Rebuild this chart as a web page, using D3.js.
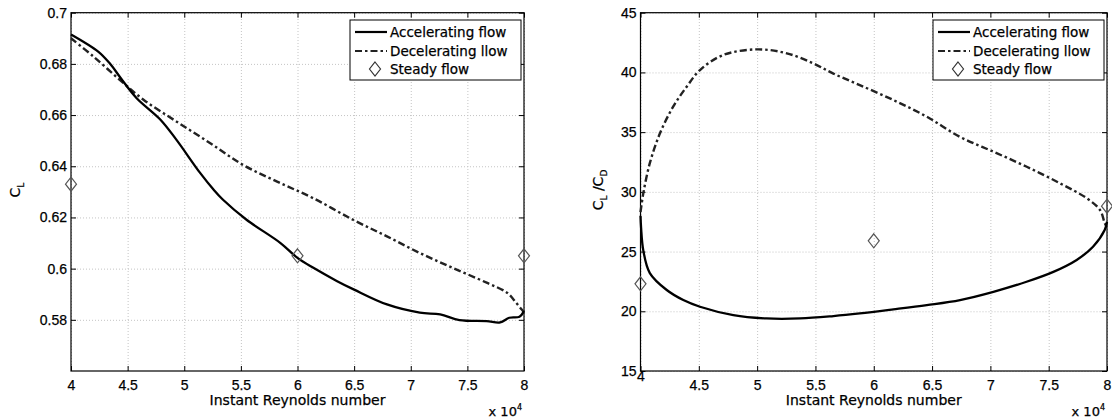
<!DOCTYPE html>
<html>
<head>
<meta charset="utf-8">
<script src="https://cdn.jsdelivr.net/npm/d3@7"></script>
<style>
body { margin: 0; background: #fff; }
svg { display: block; font-family: "DejaVu Sans", sans-serif; }
text { fill: #000; stroke: #000; stroke-width: 0.25px; }
.grid line { stroke: #c4c4c4; stroke-dasharray: 1,2; }
.grid path { display: none; }
.axis path { display: none; }
.axis line { stroke: #000; }
.axis text { fill: #000; font-size: 14px; }
</style>
</head>
<body>
<div id="chart-area"></div>
<script>
// Reynolds number ticks (x 10^4)
var reTicks = [4, 4.5, 5, 5.5, 6, 6.5, 7, 7.5, 8];
var clTicks = [0.58, 0.6, 0.62, 0.64, 0.66, 0.68, 0.7];
var clcdTicks = [15, 20, 25, 30, 35, 40, 45];
var legendLabels = ["Accelerating flow", "Decelerating llow", "Steady flow"];

// Left panel: C_L
var accelRe1 = [4.0, 4.24, 4.34, 4.45, 4.58, 4.79, 4.93, 5.14, 5.26, 5.34, 5.55, 5.85, 6.0, 6.14, 6.35, 6.5, 6.79, 7.08, 7.26, 7.43, 7.67, 7.79, 7.87, 7.96, 8.0];
var accelCl = [0.6915, 0.6848, 0.6803, 0.6738, 0.6666, 0.6582, 0.6504, 0.6374, 0.6308, 0.627, 0.6191, 0.61, 0.6042, 0.6003, 0.5951, 0.5918, 0.586, 0.5828, 0.5821, 0.5799, 0.5795, 0.579, 0.5808, 0.5812, 0.5834];
var decelRe1 = [4.0, 4.2, 4.43, 4.64, 4.93, 5.23, 5.52, 5.82, 6.14, 6.49, 6.79, 7.08, 7.37, 7.67, 7.85, 7.93, 7.98, 8.0];
var decelCl = [0.690, 0.6828, 0.6738, 0.666, 0.6575, 0.649, 0.6405, 0.634, 0.6275, 0.6191, 0.6126, 0.6061, 0.6003, 0.5945, 0.5906, 0.5867, 0.584, 0.583];
var steadyRe = [4, 6, 8];
var steadyCl = [0.633, 0.605, 0.605];

// Right panel: C_L/C_D
var accelRe2 = [4.0, 4.005, 4.024, 4.08, 4.225, 4.367, 4.51, 4.796, 5.08, 5.368, 5.654, 5.88, 6.168, 6.455, 6.74, 7.026, 7.31, 7.54, 7.74, 7.88, 7.98, 8.0];
var accelClCd = [28.0, 27.0, 25.1, 23.2, 21.78, 20.94, 20.38, 19.68, 19.4, 19.4, 19.6, 19.82, 20.16, 20.52, 20.94, 21.63, 22.47, 23.3, 24.3, 25.4, 26.8, 27.5];
var decelRe2 = [4.0, 4.024, 4.08, 4.167, 4.28, 4.396, 4.51, 4.71, 5.0, 5.254, 5.48, 5.654, 5.88, 6.168, 6.455, 6.74, 7.026, 7.312, 7.6, 7.827, 7.94, 7.98, 8.0];
var decelClCd = [28.3, 29.87, 32.4, 34.9, 37.13, 38.8, 40.2, 41.46, 41.93, 41.6, 40.76, 39.9, 38.94, 37.69, 36.29, 34.6, 33.36, 32.1, 30.7, 29.46, 28.48, 27.4, 27.0];
var steadyClCd = [22.3, 25.9, 28.8];

var svg = d3.select("#chart-area").append("svg")
    .attr("width", 1112)
    .attr("height", 418);

var plotTop = 12.7, plotBottom = 371;
var diamond = "M0,-7L5.5,0L0,7L-5.5,0Z";
var dashDot = "7,3,2.5,3";

function zip(xs, ys) {
    return xs.map((v, i) => [v, ys[i]]);
}

function panel(opt) {
    var x = d3.scaleLinear().domain([4, 8]).range([opt.left, opt.right]);
    var y = d3.scaleLinear().domain(opt.yDomain).range([plotBottom, plotTop]);
    var w = opt.right - opt.left, h = plotBottom - plotTop;
    var g = svg.append("g");

    // grid
    g.append("g").attr("class", "grid")
        .attr("transform", "translate(0," + plotBottom + ")")
        .call(d3.axisBottom(x).tickValues(reTicks).tickSize(-h).tickFormat(""));
    g.append("g").attr("class", "grid")
        .attr("transform", "translate(" + opt.left + ",0)")
        .call(d3.axisLeft(y).tickValues(opt.yTicks).tickSize(-w).tickFormat(""));

    // axes, ticks inward
    var xAxis = g.append("g").attr("class", "axis")
        .attr("transform", "translate(0," + plotBottom + ")")
        .call(d3.axisBottom(x).tickValues(reTicks).tickSize(-5).tickPadding(9).tickFormat(d => d));
    g.append("g").attr("class", "axis")
        .attr("transform", "translate(0," + plotTop + ")")
        .call(d3.axisTop(x).tickValues(reTicks).tickSize(-5).tickFormat(""));
    g.append("g").attr("class", "axis")
        .attr("transform", "translate(" + opt.left + ",0)")
        .call(d3.axisLeft(y).tickValues(opt.yTicks).tickSize(-5).tickPadding(4).tickFormat(d => d));
    g.append("g").attr("class", "axis")
        .attr("transform", "translate(" + opt.right + ",0)")
        .call(d3.axisRight(y).tickValues(opt.yTicks).tickSize(-5).tickFormat(""));
    if (opt.raiseFirst) {
        xAxis.select(".tick text").attr("dy", "0.1em");
    }

    g.append("rect")
        .attr("x", opt.left).attr("y", plotTop)
        .attr("width", w).attr("height", h)
        .attr("fill", "none").attr("stroke", "#000").attr("stroke-width", 1.2);

    var line = d3.line()
        .x(d => x(d[0])).y(d => y(d[1]))
        .curve(d3.curveCatmullRom.alpha(0.5));

    g.append("path")
        .datum(zip(opt.decelRe, opt.decel))
        .attr("d", line)
        .attr("fill", "none").attr("stroke", "#222")
        .attr("stroke-width", 2.4).attr("stroke-dasharray", dashDot);
    g.append("path")
        .datum(zip(opt.accelRe, opt.accel))
        .attr("d", line)
        .attr("fill", "none").attr("stroke", "#000")
        .attr("stroke-width", 2.3);

    g.selectAll(".steady")
        .data(zip(steadyRe, opt.steady))
        .enter().append("path")
        .attr("class", "steady")
        .attr("d", diamond)
        .attr("transform", d => "translate(" + x(d[0]) + "," + y(d[1]) + ")")
        .attr("fill", "none").attr("stroke", "#555").attr("stroke-width", 1.2);

    // legend
    var lw = 171, lx = opt.right - 3 - lw, ly = 20;
    var lg = g.append("g").attr("transform", "translate(" + lx + "," + ly + ")");
    lg.append("rect").attr("width", lw).attr("height", 60)
        .attr("fill", "#fff").attr("stroke", "#000").attr("stroke-width", 1);
    var rows = lg.selectAll(".row").data(legendLabels).enter().append("g")
        .attr("class", "row")
        .attr("transform", (d, i) => "translate(0," + [12, 31, 49][i] + ")");
    rows.append("text")
        .attr("x", 40).attr("dy", "0.36em")
        .attr("font-size", "13.5px")
        .text(d => d);
    rows.filter((d, i) => i == 0).append("line")
        .attr("x1", 5).attr("x2", 37)
        .attr("stroke", "#000").attr("stroke-width", 2.2);
    rows.filter((d, i) => i == 1).append("line")
        .attr("x1", 5).attr("x2", 37)
        .attr("stroke", "#222").attr("stroke-width", 2.2).attr("stroke-dasharray", dashDot);
    rows.filter((d, i) => i == 2).append("path")
        .attr("d", diamond).attr("transform", "translate(25,0)")
        .attr("fill", "none").attr("stroke", "#333").attr("stroke-width", 1.2);

    // labels
    g.append("text")
        .attr("x", (opt.left + opt.right) / 2).attr("y", 405)
        .attr("text-anchor", "middle").attr("font-size", "14px")
        .text("Instant Reynolds number");
    var sc = g.append("text")
        .attr("x", opt.right - 2).attr("y", 416)
        .attr("text-anchor", "end").attr("font-size", "13px");
    sc.append("tspan").text("x 10");
    sc.append("tspan").attr("dy", -6).attr("font-size", "8px").text("4");

    var yl = g.append("text")
        .attr("transform", "translate(" + opt.yLabelX + ",190) rotate(-90)")
        .attr("text-anchor", "middle").attr("font-size", "14px");
    opt.yLabel.forEach(p => {
        yl.append("tspan").attr("dy", p[2]).attr("font-size", p[1]).text(p[0]);
    });
}

panel({
    left: 71, right: 524,
    yDomain: [0.56, 0.7], yTicks: clTicks,
    accelRe: accelRe1, accel: accelCl,
    decelRe: decelRe1, decel: decelCl,
    steady: steadyCl,
    yLabelX: 20,
    yLabel: [["C", "14px", 0], ["L", "9px", 4]]
});

panel({
    left: 640.5, right: 1107,
    yDomain: [15, 45], yTicks: clcdTicks,
    accelRe: accelRe2, accel: accelClCd,
    decelRe: decelRe2, decel: decelClCd,
    steady: steadyClCd,
    raiseFirst: true,
    yLabelX: 603,
    yLabel: [["C", "14px", 0], ["L", "9px", 4], [" /C", "14px", -4], ["D", "9px", 4]]
});
</script>
</body>
</html>
